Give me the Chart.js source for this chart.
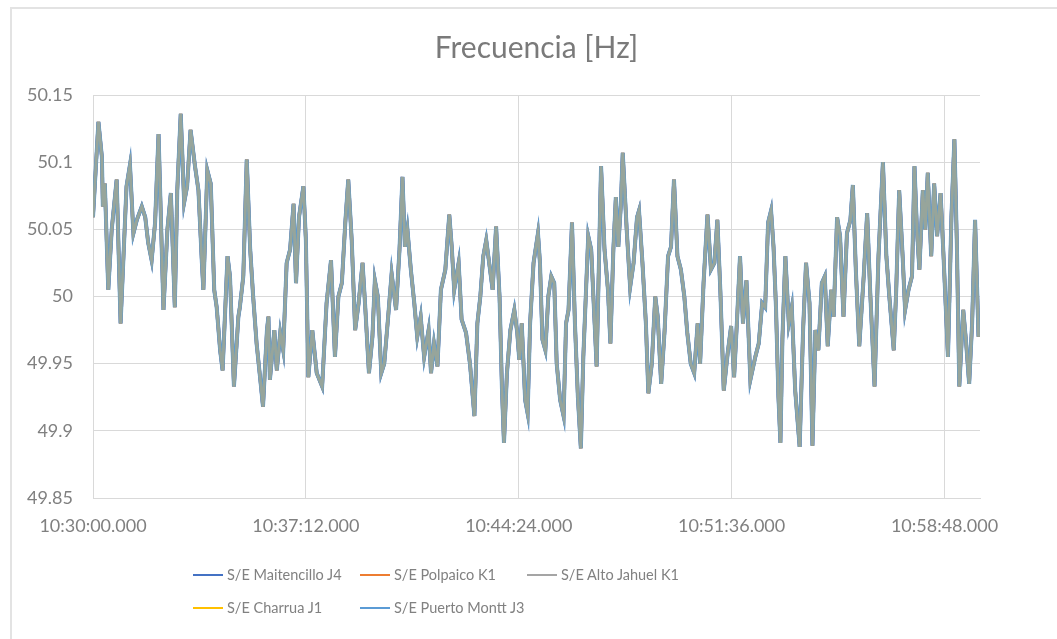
<!DOCTYPE html>
<html lang="es">
<head>
<meta charset="utf-8">
<title>Frecuencia [Hz]</title>
<script src="https://cdn.jsdelivr.net/npm/chart.js@4.4.1/dist/chart.umd.min.js"></script>
<style>
  html, body { margin: 0; padding: 0; background: #fff; }
  #marco { position: relative; width: 1057px; height: 639px; overflow: hidden; font-family: Lato, "Open Sans", sans-serif; }
  #borde { position: absolute; left: 10px; top: 7px; right: -5px; bottom: -5px; border-left: 2px solid #e3e3e3; border-top: 2px solid #e3e3e3; }
  canvas { position: absolute; left: 0; top: 0; }
  #leyenda { position: absolute; left: 193px; top: 558px; display: grid; grid-template-columns: 167px 167px 167px; grid-auto-rows: 33px; }
  .item { display: flex; align-items: center; font-size: 14.5px; color: #818181; white-space: nowrap; }
  .item i { display: inline-block; width: 30px; height: 2px; margin-right: 4px; }
</style>
</head>
<body>
<div id="marco">
  <div id="borde"></div>
  <canvas id="frecuenciaChart" width="1057" height="639"></canvas>
  <div id="leyenda"></div>
</div>
<script>
const series = ['S/E Maitencillo J4', 'S/E Polpaico K1', 'S/E Alto Jahuel K1', 'S/E Charrua J1', 'S/E Puerto Montt J3'];
const etiquetasX = ['10:30:00.000', '10:37:12.000', '10:44:24.000', '10:51:36.000', '10:58:48.000'];
const ticksX = [0, 432, 864, 1296, 1728];

// seconds after 10:30:00
const segundos = [
    0, 11, 18, 20, 24, 31, 38, 48, 56, 68, 75, 82, 89, 99, 106, 112, 119, 126, 133, 143,
    151, 158, 166, 171, 178, 185, 191, 198, 207, 214, 221, 224, 232, 239, 246, 251, 258, 263, 273, 278,
    286, 295, 298, 305, 312, 319, 325, 332, 339, 345, 353, 356, 359, 368, 373, 380, 386, 393, 400, 407,
    412, 418, 427, 432, 437, 445, 454, 465, 474, 483, 491, 498, 505, 512, 518, 525, 532, 539, 547, 552,
    560, 567, 572, 578, 585, 591, 599, 606, 615, 622, 628, 633, 638, 645, 652, 658, 665, 672, 681, 686,
    692, 699, 706, 715, 723, 728, 733, 742, 748, 757, 765, 774, 780, 786, 792, 798, 804, 811, 818, 825,
    830, 834, 840, 847, 855, 861, 865, 870, 877, 882, 887, 894, 903, 907, 912, 918, 924, 930, 936, 941,
    948, 955, 960, 965, 972, 978, 984, 990, 995, 1000, 1005, 1011, 1018, 1022, 1027, 1031, 1038, 1045, 1050, 1056,
    1061, 1066, 1071, 1075, 1083, 1090, 1097, 1104, 1108, 1115, 1122, 1127, 1134, 1141, 1146, 1153, 1160, 1167, 1173, 1179,
    1186, 1193, 1200, 1206, 1213, 1220, 1227, 1232, 1239, 1247, 1254, 1261, 1267, 1273, 1280, 1288, 1295, 1301, 1307, 1313,
    1319, 1326, 1334, 1344, 1351, 1358, 1364, 1370, 1376, 1381, 1386, 1391, 1395, 1399, 1405, 1412, 1418, 1425, 1434, 1441,
    1447, 1454, 1460, 1466, 1472, 1479, 1485, 1491, 1498, 1503, 1510, 1516, 1523, 1530, 1537, 1542, 1548, 1555, 1564, 1571,
    1577, 1586, 1594, 1603, 1610, 1616, 1625, 1630, 1636, 1643, 1648, 1655, 1662, 1667, 1672, 1677, 1684, 1689, 1694, 1701,
    1707, 1713, 1720, 1726, 1735, 1742, 1748, 1753, 1758, 1766, 1772, 1778, 1784, 1790, 1797
];

const frecuencia = [
    50.059, 50.130, 50.104, 50.067, 50.084, 50.005, 50.050, 50.087, 49.980, 50.082,
    50.098, 50.047, 50.057, 50.067, 50.059, 50.040, 50.027, 50.055, 50.121, 49.990,
    50.050, 50.077, 49.992, 50.079, 50.136, 50.070, 50.082, 50.124, 50.097, 50.079,
    50.025, 50.005, 50.094, 50.084, 50.005, 49.992, 49.960, 49.945, 50.030, 50.015,
    49.933, 49.985, 49.992, 50.015, 50.102, 50.035, 50.000, 49.965, 49.940, 49.918,
    49.975, 49.985, 49.938, 49.975, 49.945, 49.973, 49.960, 50.025, 50.035, 50.069,
    50.010, 50.059, 50.082, 50.042, 49.940, 49.975, 49.943, 49.933, 49.995, 50.027,
    49.955, 50.000, 50.010, 50.055, 50.087, 50.042, 49.975, 49.995, 50.025, 49.995,
    49.943, 49.970, 50.012, 50.000, 49.943, 49.950, 49.985, 50.017, 49.990, 50.035,
    50.089, 50.037, 50.050, 50.020, 49.995, 49.970, 49.985, 49.955, 49.975, 49.943,
    49.965, 49.948, 50.005, 50.020, 50.061, 50.037, 50.005, 50.025, 49.983, 49.973,
    49.950, 49.911, 49.980, 50.000, 50.030, 50.042, 50.025, 50.005, 50.052, 50.000,
    49.930, 49.891, 49.943, 49.975, 49.990, 49.973, 49.953, 49.980, 49.923, 49.913,
    49.980, 50.025, 50.047, 50.025, 49.968, 49.960, 50.000, 50.015, 50.010, 49.950,
    49.923, 49.911, 49.980, 49.990, 50.055, 49.980, 49.925, 49.887, 49.955, 50.000,
    50.045, 50.035, 49.980, 49.948, 50.030, 50.097, 50.035, 50.005, 49.965, 50.035,
    50.074, 50.037, 50.067, 50.107, 50.050, 50.007, 50.025, 50.059, 50.064, 50.025,
    49.980, 49.928, 49.950, 50.000, 49.985, 49.935, 49.975, 50.030, 50.037, 50.087,
    50.030, 50.020, 50.000, 49.973, 49.950, 49.943, 49.980, 49.950, 50.010, 50.061,
    50.020, 50.025, 50.057, 50.005, 49.930, 49.958, 49.978, 49.940, 49.983, 50.030,
    49.980, 50.012, 49.938, 49.955, 49.965, 49.995, 49.992, 50.055, 50.064, 50.037,
    49.992, 49.925, 49.891, 49.968, 50.030, 49.980, 49.992, 49.930, 49.888, 49.975,
    50.025, 49.995, 49.889, 49.975, 49.960, 50.010, 50.015, 49.963, 50.005, 49.985,
    50.059, 50.045, 49.985, 50.047, 50.057, 50.083, 50.020, 49.963, 50.015, 50.062,
    50.005, 49.933, 50.030, 50.100, 50.030, 50.000, 49.960, 50.005, 50.079, 50.030,
    49.990, 50.005, 50.015, 50.097, 50.050, 50.020, 50.079, 50.050, 50.092, 50.030,
    50.084, 50.045, 50.077, 50.030, 49.955, 50.059, 50.117, 50.040, 49.933, 49.990,
    49.965, 49.935, 49.980, 50.057, 49.970
];

const colores = ['#4472C4', '#ED7D31', '#A5A5A5', '#FFC000', '#5B9BD5'];
// the five traces lie on top of each other; these only set the stacking and blend
const trazo = [
    { order: 4, width: 3.5, color: 'rgba(68,114,196,1)' },
    { order: 3, width: 3.5, color: 'rgba(237,125,49,1)' },
    { order: 0, width: 2.8, color: 'rgba(165,165,165,0.45)' },
    { order: 1, width: 2.8, color: 'rgba(255,192,0,0.3)' },
    { order: 2, width: 4, color: 'rgba(91,155,213,1)' }
];

const puntos = segundos.map((s, i) => ({ x: s, y: frecuencia[i] }));

const textoGris = '#808080';
const rejilla = '#d9d9d9';

const htmlLegend = {
    id: 'htmlLegend',
    afterUpdate(chart) {
        const box = document.getElementById('leyenda');
        box.innerHTML = '';
        chart.data.datasets.forEach((ds) => {
            const item = document.createElement('div');
            item.className = 'item';
            const line = document.createElement('i');
            line.style.background = ds.borderColor;
            item.appendChild(line);
            item.appendChild(document.createTextNode(ds.label));
            box.appendChild(item);
        });
    }
};

new Chart(document.getElementById('frecuenciaChart'), {
    type: 'line',
    data: {
        datasets: series.map((name, i) => ({
            label: name,
            data: puntos,
            borderColor: colores[i],
            borderWidth: trazo[i].width,
            order: trazo[i].order,
            segment: { borderColor: () => trazo[i].color },
            pointRadius: 0,
            tension: 0,
            fill: false
        }))
    },
    options: {
        responsive: false,
        animation: false,
        layout: {
            padding: { top: 30, right: 77, bottom: 0, left: 0 }
        },
        plugins: {
            legend: { display: false },
            tooltip: { enabled: false },
            title: {
                display: true,
                fullSize: false,
                text: 'Frecuencia [Hz]',
                color: '#7a7a7a',
                font: { family: 'Lato', size: 30, weight: 'normal' },
                padding: { top: 0, bottom: 29 }
            }
        },
        scales: {
            x: {
                type: 'linear',
                min: 0,
                max: 1800,
                afterFit: (scale) => { scale.height = 141; },
                afterBuildTicks: (scale) => { scale.ticks = ticksX.map((v) => ({ value: v })); },
                grid: { color: rejilla, drawTicks: false },
                border: { color: rejilla },
                ticks: {
                    autoSkip: false,
                    maxRotation: 0,
                    padding: 17,
                    color: textoGris,
                    font: { family: 'Lato', size: 18 },
                    callback: (value, index) => etiquetasX[index]
                }
            },
            y: {
                min: 49.85,
                max: 50.15,
                afterFit: (scale) => { scale.width = 93; },
                grid: { color: rejilla, drawTicks: false },
                border: { color: rejilla },
                ticks: {
                    stepSize: 0.05,
                    padding: 20,
                    color: textoGris,
                    font: { family: 'Lato', size: 18 },
                    callback: (value) => String(Number(value.toFixed(2)))
                }
            }
        }
    },
    plugins: [htmlLegend]
});
</script>
</body>
</html>
